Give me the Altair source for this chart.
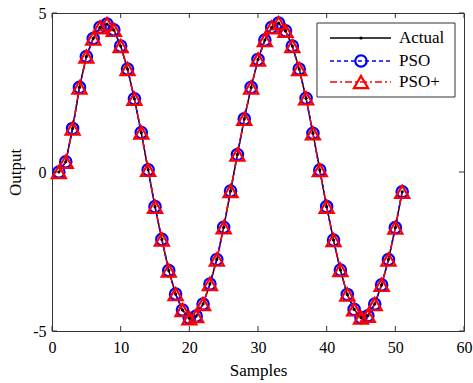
import altair as alt
import pandas as pd

samples = list(range(1, 52))
actual = [0.0, 0.32, 1.37, 2.66, 3.63, 4.2, 4.55, 4.65, 4.47, 3.96,
          3.24, 2.3, 1.24, 0.07, -1.09, -2.12, -3.1, -3.84, -4.34, -4.6,
          -4.53, -4.15, -3.52, -2.75, -1.74, -0.6, 0.55, 1.67, 2.66, 3.54,
          4.15, 4.55, 4.68, 4.44, 3.96, 3.24, 2.32, 1.22, 0.06, -1.09,
          -2.14, -3.08, -3.85, -4.32, -4.58, -4.52, -4.15, -3.55, -2.75, -1.75,
          -0.62]
pso = list(actual)
pso_plus = list(actual)
x_ticks = [0, 10, 20, 30, 40, 50, 60]
y_ticks = [-5, 0, 5]
legend_labels = ["Actual", "PSO", "PSO+"]

W, H = 412, 318
FONT = "Liberation Serif"

df = pd.DataFrame({"Samples": samples, "Actual": actual, "PSO": pso, "PSOplus": pso_plus})
xt = pd.DataFrame({"Samples": x_ticks})
yt = pd.DataFrame({"Actual": y_ticks})
one = pd.DataFrame({"a": [0]})

xs = alt.Scale(domain=[0, 60], nice=False, zero=False)
ys = alt.Scale(domain=[-5, 5], nice=False, zero=False)

x_axis = alt.Axis(values=x_ticks, ticks=False, domain=False, grid=False,
                  labelFont=FONT, labelFontSize=16, labelColor="black",
                  labelPadding=8, title="Samples", titleFont=FONT,
                  titleFontSize=17, titleFontWeight="normal", titleColor="black",
                  titlePadding=7, labelFlush=False, labelExpr="'' + datum.value")
y_axis = alt.Axis(values=y_ticks, ticks=False, domain=False, grid=False,
                  labelFont=FONT, labelFontSize=16, labelColor="black",
                  labelPadding=6, title="Output", titleFont=FONT,
                  titleFontSize=17, titleFontWeight="normal", titleColor="black",
                  titlePadding=8, labelFlush=False, labelExpr="'' + datum.value")


def X(field):
    return alt.X(field + ":Q", scale=xs, axis=x_axis, title="Samples")


def Y(field):
    return alt.Y(field + ":Q", scale=ys, axis=y_axis, title="Output")


base = alt.Chart(df)

act_line = base.mark_line(color="black", strokeWidth=1.5).encode(x=X("Samples"), y=Y("Actual"))
pso_line = base.mark_line(color="#0000ff", strokeWidth=1.5, strokeDash=[4, 3]).encode(
    x=X("Samples"), y=Y("PSO"))
pso_pts = base.mark_point(shape="circle", filled=False, color="#0000ff", size=130,
                          strokeWidth=2.2, opacity=1).encode(x=X("Samples"), y=Y("PSO"))
pp_line = base.mark_line(color="#ff0000", strokeWidth=1.5, strokeDash=[7, 3, 2, 3]).encode(
    x=X("Samples"), y=Y("PSOplus"))
pp_pts = base.mark_point(shape="triangle-up", filled=False, color="#ff0000", size=200,
                         strokeWidth=2.2, opacity=1).encode(x=X("Samples"), y=Y("PSOplus"))
act_pts = base.mark_point(shape="circle", filled=True, color="black", size=10, opacity=1).encode(
    x=X("Samples"), y=Y("Actual"))

# inward ticks
TL = 5
tick_color = "#333333"
bx = alt.Chart(xt).mark_rule(color=tick_color, strokeWidth=1).encode(
    x=X("Samples"), y=alt.value(H), y2=alt.value(H - TL))
tx = alt.Chart(xt).mark_rule(color=tick_color, strokeWidth=1).encode(
    x=X("Samples"), y=alt.value(0), y2=alt.value(TL))
ly = alt.Chart(yt).mark_rule(color=tick_color, strokeWidth=1).encode(
    y=Y("Actual"), x=alt.value(0), x2=alt.value(TL))
ry = alt.Chart(yt).mark_rule(color=tick_color, strokeWidth=1).encode(
    y=Y("Actual"), x=alt.value(W), x2=alt.value(W - TL))

# legend
LX0, LX1, LY0, LY1 = 265, 403, 10, 84
leg_box = alt.Chart(one).mark_rect(fill="white", stroke="#333333", strokeWidth=1).encode(
    x=alt.value(LX0), x2=alt.value(LX1), y=alt.value(LY0), y2=alt.value(LY1))

rows_y = [25, 48, 69]
line_x0, line_x1, mk_x, txt_x = 278, 339, 309, 347
styles = [
    dict(color="black", dash=None, shape="circle", filled=True, size=10, sw=1),
    dict(color="#0000ff", dash=[4, 3], shape="circle", filled=False, size=130, sw=2.2),
    dict(color="#ff0000", dash=[7, 3, 2, 3], shape="triangle-up", filled=False, size=200, sw=2.2),
]
leg_layers = [leg_box]
for lab, yy, st in zip(legend_labels, rows_y, styles):
    rule_kw = dict(color=st["color"], strokeWidth=1.5)
    if st["dash"]:
        rule_kw["strokeDash"] = st["dash"]
    leg_layers.append(alt.Chart(one).mark_rule(**rule_kw).encode(
        x=alt.value(line_x0), x2=alt.value(line_x1), y=alt.value(yy)))
    leg_layers.append(alt.Chart(one).mark_point(shape=st["shape"], filled=st["filled"],
                                                color=st["color"], size=st["size"],
                                                strokeWidth=st["sw"], opacity=1).encode(
        x=alt.value(mk_x), y=alt.value(yy)))
    leg_layers.append(alt.Chart(one).mark_text(align="left", baseline="middle", font=FONT,
                                               fontSize=17, color="black").encode(
        x=alt.value(txt_x), y=alt.value(yy), text=alt.value(lab)))

chart = alt.layer(
    act_line, pso_line, pso_pts, pp_line, pp_pts, act_pts,
    bx, tx, ly, ry, *leg_layers
).properties(
    width=W, height=H,
    autosize=alt.AutoSizeParams(type="none"),
    padding={"left": 52, "top": 13, "right": 9, "bottom": 52},
    background="white",
).configure_view(stroke="#333333", strokeWidth=1)

chart.save("out.html", embed_options={"renderer": "svg", "actions": False})
